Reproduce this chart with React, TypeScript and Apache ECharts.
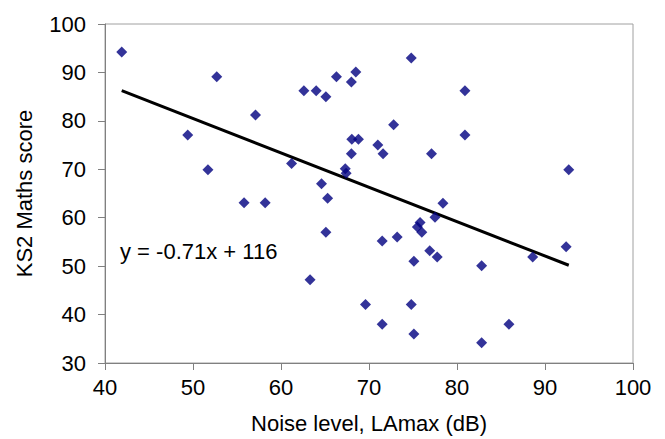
import React, { useEffect, useRef } from "react";
import * as echarts from "echarts";

const noiseLevel = [
  41.9, 49.4, 51.7, 52.7, 55.8, 57.1, 58.2, 61.2, 62.6, 63.3,
  64.0, 64.6, 65.1, 65.3, 65.1, 66.3, 67.3, 67.4, 68.0, 68.0,
  68.05, 68.5, 68.8, 69.6, 71.0, 71.6, 71.5, 71.5, 72.8, 73.2,
  74.8, 74.8, 75.1, 75.1, 75.5, 75.8, 76.0, 77.1, 76.9, 77.5,
  77.75, 78.4, 80.9, 80.9, 82.8, 82.8, 85.9, 88.6, 92.4, 92.7,
];
const mathsScore = [
  94.2, 77.1, 69.9, 89.1, 63.1, 81.2, 63.1, 71.2, 86.2, 47.2,
  86.2, 67.0, 85.0, 64.0, 57.0, 89.1, 70.1, 69.2, 73.2, 88.0,
  76.2, 90.1, 76.2, 42.1, 75.0, 73.2, 55.2, 38.0, 79.2, 56.0,
  93.0, 42.1, 51.0, 36.0, 58.1, 59.0, 57.0, 73.2, 53.2, 60.1,
  51.9, 63.0, 86.2, 77.1, 50.1, 34.2, 38.0, 51.9, 54.0, 69.9,
];
const trendSlope = -0.71;
const trendIntercept = 116;
const xTicks = [40, 100, 10];
const yTicks = [30, 100, 10];

export default function App() {
  const ref = useRef<HTMLDivElement>(null);
  useEffect(() => {
    if (!ref.current) return;
    const chart = echarts.init(ref.current, null, { renderer: "svg" });
    const points = noiseLevel.map((x, i) => [x, mathsScore[i]]);
    const xMin = Math.min(...noiseLevel);
    const xMax = Math.max(...noiseLevel);
    const trend = [
      [xMin, trendSlope * xMin + trendIntercept],
      [xMax, trendSlope * xMax + trendIntercept],
    ];
    const font = "Arial, 'Liberation Sans', sans-serif";
    const axisCommon = {
      axisLine: { show: true, lineStyle: { color: "#808080", width: 1 } },
      axisTick: { show: true, inside: false, length: 7, lineStyle: { color: "#808080" } },
      splitLine: { show: false },
      nameTextStyle: { fontFamily: font, fontSize: 22, color: "#000" },
    };
    chart.setOption({
      animation: false,
      backgroundColor: "#fff",
      grid: {
        left: 105,
        right: 32,
        top: 24,
        bottom: 74,
        show: true,
        borderColor: "#a0a0a0",
        borderWidth: 1,
      },
      xAxis: {
        type: "value",
        min: xTicks[0],
        max: xTicks[1],
        interval: xTicks[2],
        name: "Noise level, LAmax (dB)",
        nameLocation: "middle",
        nameGap: 49,
        axisLabel: { fontFamily: font, fontSize: 22, color: "#000", margin: 13 },
        ...axisCommon,
      },
      yAxis: {
        type: "value",
        min: yTicks[0],
        max: yTicks[1],
        interval: yTicks[2],
        name: "KS2 Maths score",
        nameLocation: "middle",
        nameGap: 70,
        axisLabel: { fontFamily: font, fontSize: 22, color: "#000", margin: 19 },
        ...axisCommon,
      },
      series: [
        {
          type: "line",
          data: trend,
          symbol: "none",
          lineStyle: { color: "#000", width: 3 },
          z: 1,
        },
        {
          type: "scatter",
          data: points,
          symbol: "diamond",
          symbolSize: 11,
          itemStyle: { color: "#000080" },
          z: 2,
        },
      ],
      graphic: [
        {
          type: "text",
          left: 120,
          top: 240,
          style: {
            text: "y = -0.71x + 116",
            fontFamily: font,
            fontSize: 22,
            fill: "#000",
          },
        },
      ],
    });
    return () => chart.dispose();
  }, []);
  return (
    <div
      ref={ref}
      style={{ position: "fixed", left: 0, top: 0, width: 665, height: 439 }}
    />
  );
}
